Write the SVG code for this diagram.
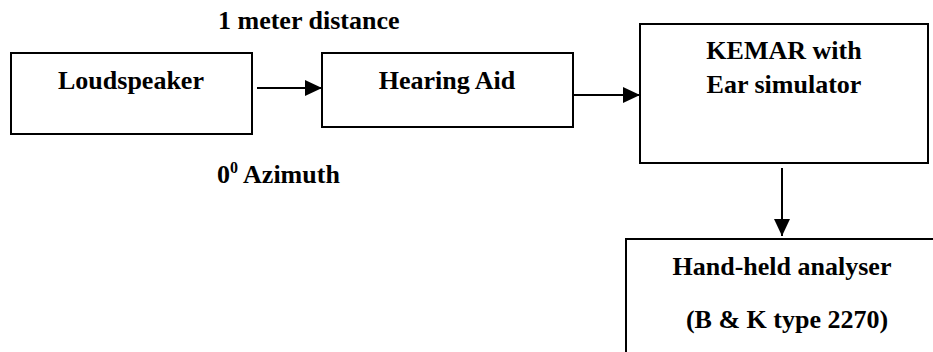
<svg xmlns="http://www.w3.org/2000/svg" width="933" height="352" viewBox="0 0 933 352">
<style>
.box{fill:#fff;stroke:#000;stroke-width:2}
.t{font-family:'Liberation Serif','DejaVu Serif',serif;font-weight:700;font-size:26px;fill:#000}
.c{stroke:#000;stroke-width:2;fill:none}
</style>
<defs>
<marker id="ah" markerUnits="userSpaceOnUse" markerWidth="17" markerHeight="16" refX="17" refY="8" orient="auto">
<path d="M0,0 L17,8 L0,16 z" fill="#000"/>
</marker>
</defs>
<rect width="933" height="352" fill="#fff"/>
<g id="loudspeaker">
<rect class="box" x="11" y="53" width="241" height="81"/>
<text class="t" x="131" y="89" text-anchor="middle">Loudspeaker</text>
</g>
<g id="hearing-aid">
<rect class="box" x="322" y="53" width="251" height="74"/>
<text class="t" x="447" y="89" text-anchor="middle">Hearing Aid</text>
</g>
<g id="kemar">
<rect class="box" x="640" y="24" width="288" height="139"/>
<text class="t" x="784" y="59" text-anchor="middle">KEMAR with</text>
<text class="t" x="784" y="93" text-anchor="middle">Ear simulator</text>
</g>
<g id="analyser">
<rect class="box" x="626" y="239" width="400" height="200"/>
<text class="t" x="782" y="275" text-anchor="middle">Hand-held analyser</text>
<text class="t" x="787" y="328" text-anchor="middle">(B &amp; K type 2270)</text>
</g>
<g id="labels">
<text class="t" x="218" y="29">1 meter distance</text>
<text class="t" x="217" y="183">0<tspan font-size="16" dy="-10">0</tspan><tspan dy="10"> Azimuth</tspan></text>
</g>
<g id="connectors">
<line class="c" x1="257" y1="88" x2="322" y2="88" marker-end="url(#ah)"/>
<line class="c" x1="574" y1="95" x2="640" y2="95" marker-end="url(#ah)"/>
<line class="c" x1="782" y1="168" x2="782" y2="236" stroke-width="1.6" marker-end="url(#ah)"/>
</g>
</svg>
